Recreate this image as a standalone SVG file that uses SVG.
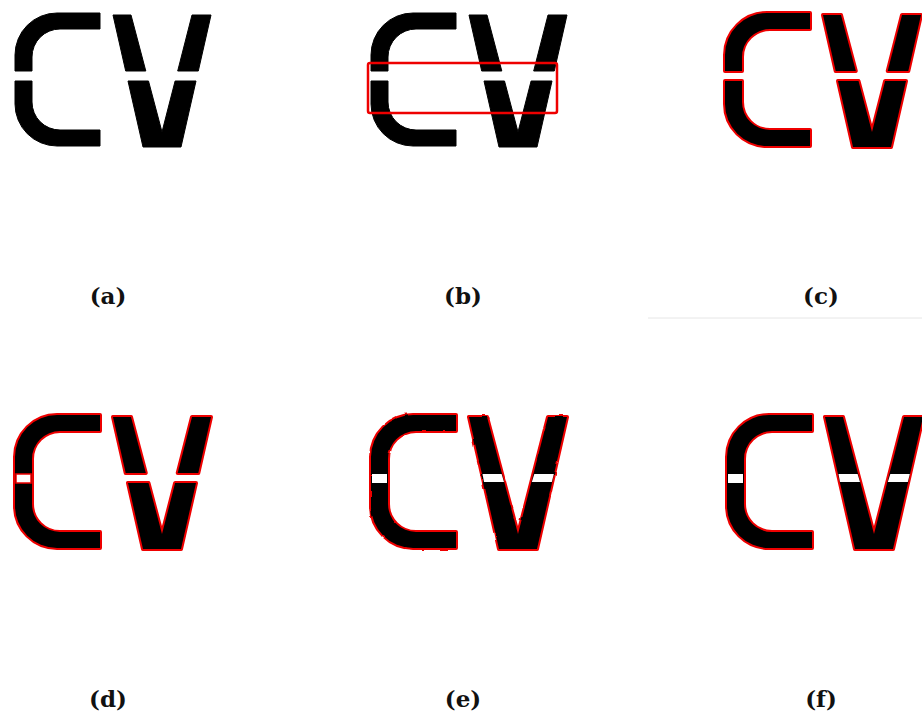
<svg xmlns="http://www.w3.org/2000/svg" xmlns:xlink="http://www.w3.org/1999/xlink" width="922" height="717" viewBox="0 0 922 717">
<style>
.cap{font-family:"DejaVu Serif","Liberation Serif",serif;font-weight:bold;font-size:23px;fill:#111;text-anchor:middle}
.blk{fill:#000;stroke:#000;stroke-width:1;stroke-linejoin:round}
.out{fill:#000;stroke:#e00;stroke-width:4;stroke-linejoin:round;paint-order:stroke}
.gap{fill:#fff}
.gapr{fill:#fff;stroke:#e00;stroke-width:1.5}
</style>
<defs>
<path id="cTop" d="M100,13 H57 A42,42 0 0 0 15,55 V71 H32 V57 A28,28 0 0 1 60,29 H100 Z"/>
<path id="cBot" d="M15,81 V104 A42,42 0 0 0 57,146 H100 V130 H60 A28,28 0 0 1 32,102 V81 Z"/>
<path id="cAll" d="M100,13 H57 A42,42 0 0 0 15,55 V104 A42,42 0 0 0 57,146 H100 V130 H60 A28,28 0 0 1 32,102 V57 A28,28 0 0 1 60,29 H100 Z"/>
<path id="vTL" d="M113,15 L131,15 L145.8,71 L125.7,71 Z"/>
<path id="vTR" d="M192,15 L211,15 L198.3,71 L177.7,71 Z"/>
<path id="vBot" d="M128,81 L148.5,81 L162,132 L175.1,81 L196,81 L181,147 L143,147 Z"/>
<path id="vAll" d="M113,15 L131,15 L162,132 L192,15 L211,15 L181,147 L143,147 Z"/>
<path id="gapL" d="M126.5,72 L145.6,72 L148,80 L128,80 Z"/>
<path id="gapR" d="M178.3,72 L197.8,72 L195.8,80 L175.8,80 Z"/>
<filter id="wob" x="-10%" y="-10%" width="120%" height="120%">
<feTurbulence type="fractalNoise" baseFrequency="0.09" numOctaves="1" seed="4" result="n"/>
<feDisplacementMap in="SourceGraphic" in2="n" scale="2.5" xChannelSelector="R" yChannelSelector="G"/>
</filter>
</defs>
<rect width="922" height="717" fill="#fff"/>
<line x1="648" y1="318" x2="922" y2="318" stroke="#e6e6e6" stroke-width="1"/>

<g id="panel-a">
<use href="#cTop" class="blk"/><use href="#cBot" class="blk"/>
<use href="#vTL" class="blk"/><use href="#vTR" class="blk"/><use href="#vBot" class="blk"/>
<text class="cap" x="108" y="304">(a)</text>
</g>

<g id="panel-b">
<g transform="translate(356,0)">
<use href="#cTop" class="blk"/><use href="#cBot" class="blk"/>
<use href="#vTL" class="blk"/><use href="#vTR" class="blk"/><use href="#vBot" class="blk"/>
</g>
<rect x="368" y="63" width="189" height="50" rx="2" fill="none" stroke="#e00" stroke-width="2.5"/>
<text class="cap" x="463" y="304">(b)</text>
</g>

<g id="panel-c">
<g transform="translate(710,0)">
<use href="#cTop" class="out"/><use href="#cBot" class="out"/>
<use href="#vTL" class="out"/><use href="#vTR" class="out"/><use href="#vBot" class="out"/>
</g>
<text class="cap" x="821" y="304">(c)</text>
</g>

<g id="panel-d">
<g transform="translate(0,402)">
<use href="#cAll" class="out"/>
<rect x="16" y="72" width="15" height="9" class="gapr"/>
<use href="#vTL" class="out"/><use href="#vTR" class="out"/><use href="#vBot" class="out"/>
</g>
<text class="cap" x="108" y="707">(d)</text>
</g>

<g id="panel-e">
<g transform="translate(356,402)">
<g filter="url(#wob)">
<use href="#cAll" class="out"/><use href="#vAll" class="out"/>
</g>
<rect x="16" y="72" width="15" height="9" class="gap"/>
<use href="#gapL" class="gap"/><use href="#gapR" class="gap"/>
</g>
<text class="cap" x="463" y="707">(e)</text>
</g>

<g id="panel-f">
<g transform="translate(712,402)">
<use href="#cAll" class="out"/><use href="#vAll" class="out"/>
<rect x="16" y="72" width="15" height="9" class="gap"/>
<use href="#gapL" class="gap"/><use href="#gapR" class="gap"/>
</g>
<text class="cap" x="821" y="707">(f)</text>
</g>
</svg>
